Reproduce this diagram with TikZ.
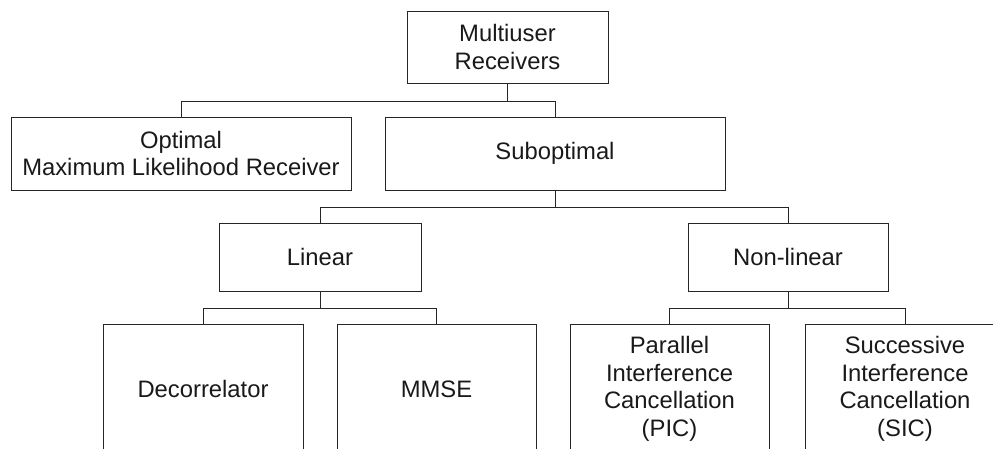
\documentclass[tikz,border=0pt]{standalone}
\usepackage{fontspec}
\setmainfont{Liberation Sans}
\begin{document}
\begin{tikzpicture}[x=1pt,y=-1pt,
  box/.style={draw=black!85,line width=1pt,rectangle,align=center,inner sep=0pt,
    font=\fontsize{23.8}{27.5}\selectfont,text=black!90},
  link/.style={draw=black!85,line width=1pt}]
\useasboundingbox (0,0) rectangle (993,448);
\clip (0,0) rectangle (993,448);
% nodes
\node[box,minimum width=201pt,minimum height=72pt] (mu) at (507.5,47) {Multiuser\\Receivers};
\node[box,minimum width=340pt,minimum height=73pt] (opt) at (181,153.5) {Optimal\\Maximum Likelihood Receiver};
\node[box,minimum width=340pt,minimum height=73pt] (sub) at (555,153.5) {Suboptimal};
\node[box,minimum width=202pt,minimum height=68pt] (lin) at (320,257) {Linear};
\node[box,minimum width=200pt,minimum height=68pt] (nl) at (788,257) {Non-linear};
\node[box,minimum width=200pt,minimum height=130pt] (dec) at (203,389) {Decorrelator};
\node[box,minimum width=199pt,minimum height=130pt] (mmse) at (436.5,389) {MMSE};
\node[box,minimum width=199pt,minimum height=130pt] (pic) at (669.5,389) {Parallel\\Interference\\Cancellation\\(PIC)};
\node[box,minimum width=200pt,minimum height=130pt] (sic) at (905,389) {Successive\\Interference\\Cancellation\\(SIC)};
% connectors
\draw[link] (mu.south) -- ++(0,18) coordinate (j1);
\draw[link] (opt.north) |- (j1) -| (sub.north);
\draw[link] (sub.south) -- ++(0,17) coordinate (j2);
\draw[link] (lin.north) |- (j2) -| (nl.north);
\draw[link] (lin.south) -- ++(0,17) coordinate (j3);
\draw[link] (dec.north) |- (j3) -| (mmse.north);
\draw[link] (nl.south) -- ++(0,17) coordinate (j4);
\draw[link] (pic.north) |- (j4) -| (sic.north);
\end{tikzpicture}
\end{document}
